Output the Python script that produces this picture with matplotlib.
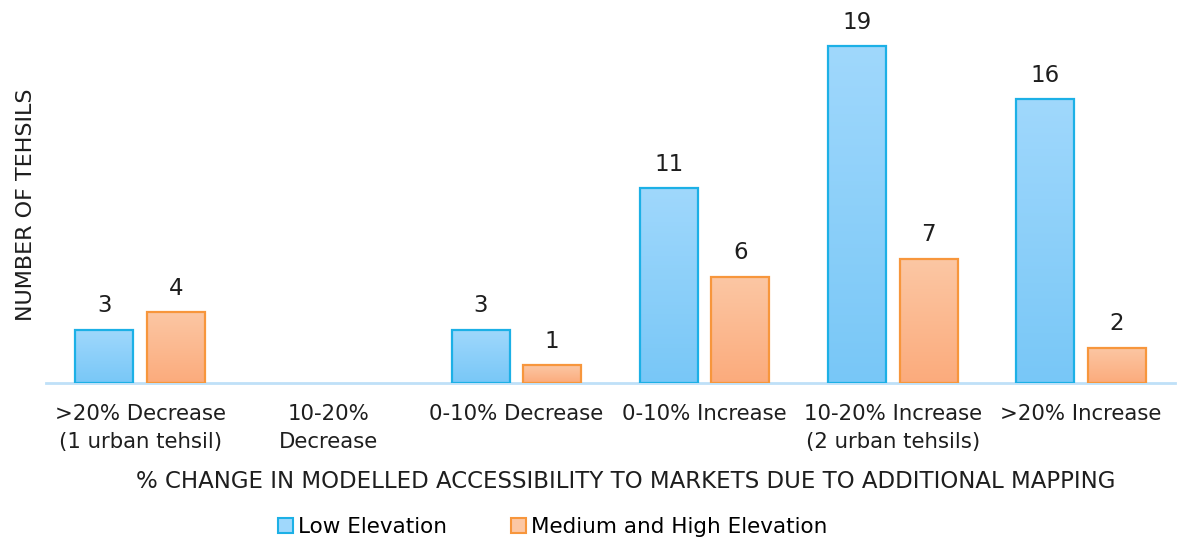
import numpy as np
import matplotlib.pyplot as plt
from matplotlib.patches import Patch
from matplotlib.colors import LinearSegmentedColormap

# data
categories = ['>20% Decrease\n(1 urban tehsil)', '10-20%\nDecrease', '0-10% Decrease',
              '0-10% Increase', '10-20% Increase\n(2 urban tehsils)', '>20% Increase']
low_elev = [3, 0, 3, 11, 19, 16]
med_high_elev = [4, 0, 1, 6, 7, 2]
series_names = ['Low Elevation', 'Medium and High Elevation']

plt.rcParams['font.family'] = ['DejaVu Sans']

fig = plt.figure(figsize=(11.81, 5.39), dpi=100)
ax = fig.add_axes([0.039, 0.2894, 0.956, 0.7106])

x = np.arange(len(categories))
w = 0.308
off = 0.19

styles = [
    ('#a0d8fc', '#78c7f7', '#1cb0e6'),
    ('#fcc7a4', '#fbab7c', '#f7963c'),
]

ymax = 21.6
txt = '#1e1e1e'

for k, vals in enumerate([low_elev, med_high_elev]):
    top_c, bot_c, edge_c = styles[k]
    cmap = LinearSegmentedColormap.from_list('g%d' % k, [bot_c, top_c])
    pos = x + (off if k else -off)
    bars = ax.bar(pos, vals, width=w, facecolor='none', edgecolor=edge_c, linewidth=1.6, zorder=3)
    for b, v in zip(bars, vals):
        if v == 0:
            b.set_linewidth(0)  # empty category, nothing drawn
            continue
        grad = np.linspace(0, 1, 256).reshape(-1, 1)
        im = ax.imshow(grad, cmap=cmap, origin='lower', aspect='auto',
                       extent=[b.get_x(), b.get_x() + w, 0, v], zorder=2)
        im.set_clip_path(b)
        ax.text(b.get_x() + w / 2, v + 0.7, str(v), ha='center', va='bottom',
                fontsize=16.5, color=txt)

ax.set_xlim(-0.5, len(categories) - 0.5)
ax.set_ylim(0, ymax)

for s in ['top', 'right', 'left']:
    ax.spines[s].set_visible(False)
ax.spines['bottom'].set_color('#bfe0f8')
ax.spines['bottom'].set_linewidth(2)
ax.set_yticks([])
ax.set_xticks(x)
ax.set_xticklabels(categories, fontsize=15.3, color=txt, linespacing=1.5)
ax.tick_params(axis='x', length=0, pad=15)

fig.text(0.022, 0.62, 'NUMBER OF TEHSILS', rotation=90, ha='center', va='center',
         fontsize=16, color=txt)
fig.text(0.53, 0.106, '% CHANGE IN MODELLED ACCESSIBILITY TO MARKETS DUE TO ADDITIONAL MAPPING',
         ha='center', va='center', fontsize=16.5, color=txt)

handles = [Patch(facecolor=styles[i][0], edgecolor=styles[i][2], linewidth=1.5) for i in range(2)]
fig.legend(handles, series_names, loc='center', bbox_to_anchor=(0.468, 0.022), ncol=2,
           frameon=False, fontsize=15.5, handlelength=0.7, handleheight=0.7,
           handletextpad=0.2, columnspacing=3.0)

fig.savefig('out.png', dpi=100, facecolor='white')
